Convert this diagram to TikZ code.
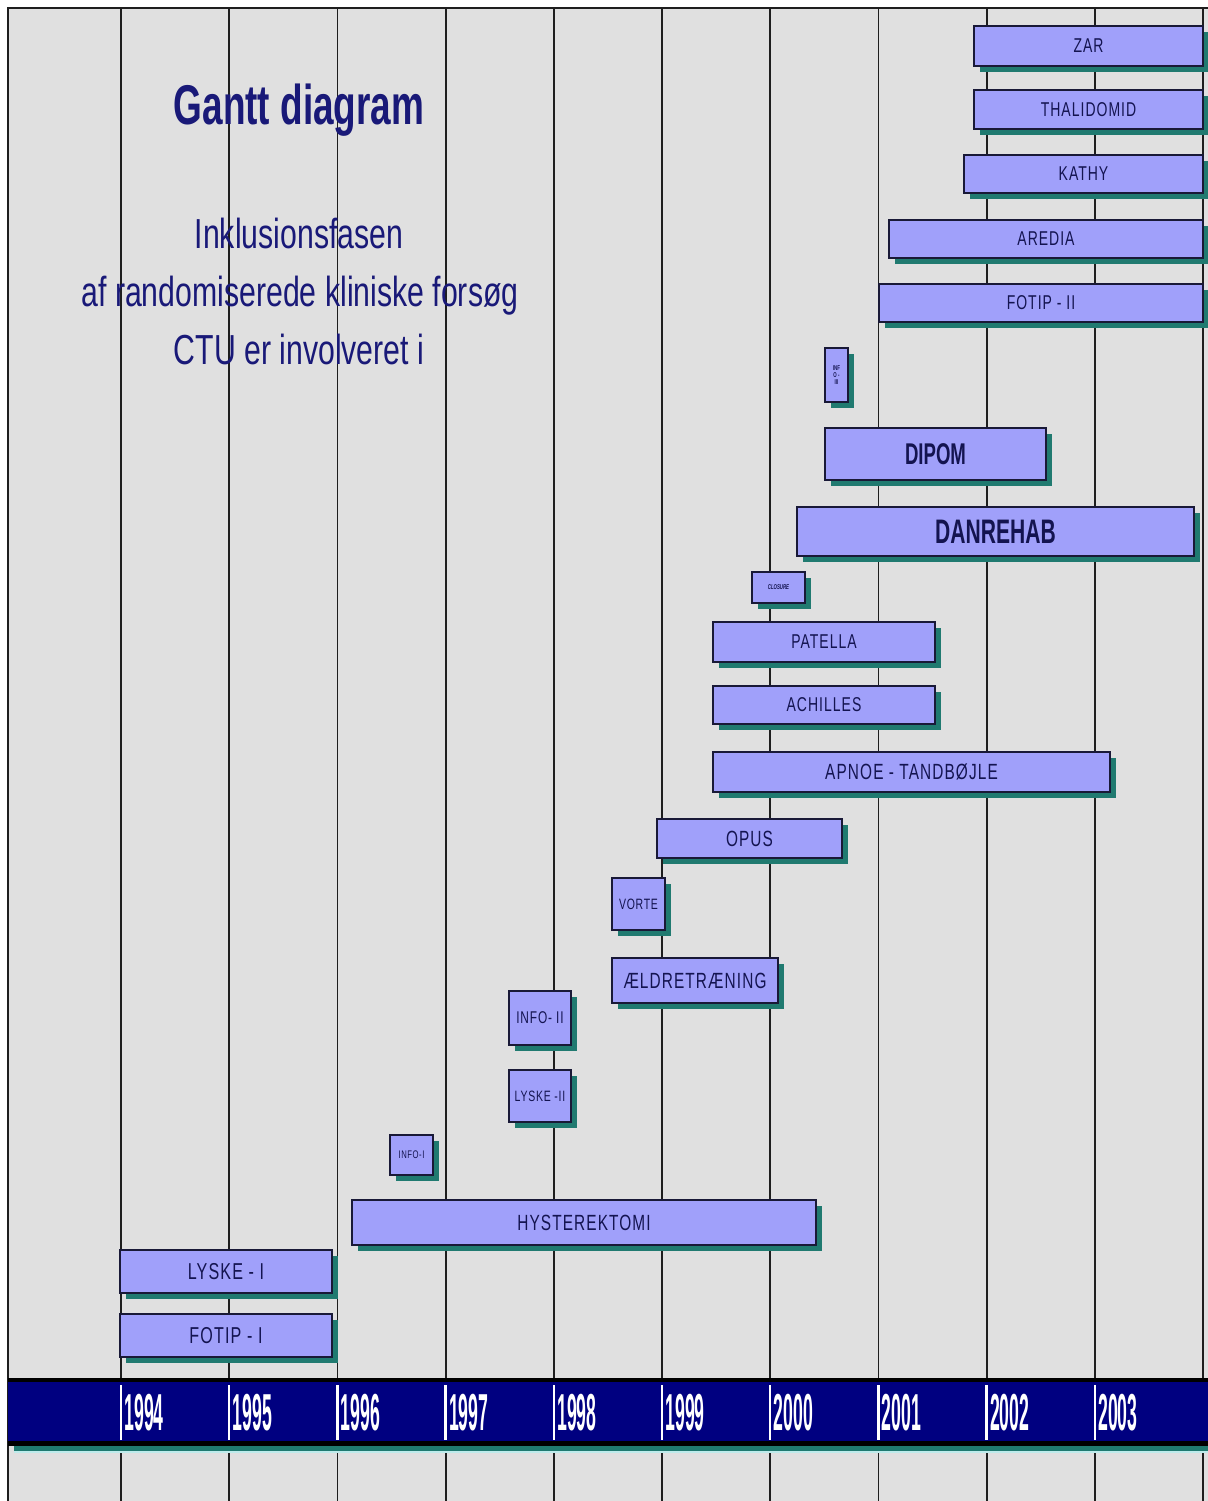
\documentclass[tikz,border=0pt]{standalone}
\usepackage{fontspec}
\setmainfont{Liberation Sans}
\newfontfamily\narrowfont[FakeStretch=0.72]{Liberation Sans}
\newfontfamily\titlefont[FakeStretch=0.66]{Liberation Sans}
\newfontfamily\yearfont[FakeStretch=0.34]{Liberation Sans}
\newfontfamily\barfont[FakeStretch=0.7,LetterSpace=5]{Liberation Sans}
\newfontfamily\boldbarfont[FakeStretch=0.62]{Liberation Sans}
\usetikzlibrary{shadows}
\definecolor{bggray}{RGB}{224,224,224}
\definecolor{gridcol}{RGB}{30,30,30}
\definecolor{navybar}{RGB}{0,0,128}
\definecolor{teals}{RGB}{32,122,112}
\definecolor{lightcyan}{RGB}{190,235,235}
\definecolor{barfill}{RGB}{160,160,250}
\definecolor{bardraw}{RGB}{25,25,55}
\definecolor{bartext}{RGB}{20,20,80}
\definecolor{titlecol}{RGB}{25,25,120}
\newcommand{\setfs}[1]{\fontsize{#1}{#1}\selectfont}
\tikzset{
  barbox/.style={draw=bardraw, line width=0.9pt, fill=barfill, inner sep=0pt,
    text=bartext, align=center,
    drop shadow={shadow xshift=3pt, shadow yshift=-3pt, fill=teals, opacity=1}},
  gridline/.style={draw=gridcol, line width=0.9pt},
  yearlabel/.style={text=white, anchor=west, inner sep=0pt, font=\yearfont\bfseries\setfs{26}},
  titletext/.style={text=titlecol, anchor=base, inner sep=0pt}
}
\newcommand{\ganttbar}[7]{%
  \pgfmathsetmacro\gw{(#4-#2)*0.5}%
  \pgfmathsetmacro\gh{(#5-#3)*0.5}%
  \node[barbox, font={#6}, minimum width=\gw pt, minimum height=\gh pt] (#1)
    at ({(#2+#4)/2},{(#3+#5)/2}) {#7};}
\begin{document}
\begin{tikzpicture}[x=0.5pt,y=-0.5pt]
\useasboundingbox (0,0) rectangle (1208,1501);
\fill[white] (0,0) rectangle (1208,1501);
\fill[bggray] (8,8) rectangle (1208,1501);
\draw[gridline] (8,1501) -- (8,8) -- (1208,8);
\foreach \i in {0,...,10} \draw[gridline] ({121+108.2*\i},8) -- ({121+108.2*\i},1501);
% year bar
\fill[black] (8,1378) rectangle (1208,1446);
\fill[navybar] (8,1382) rectangle (1208,1441);
\fill[teals] (14,1446) rectangle (1208,1451);
\fill[lightcyan] (14,1451) rectangle (1208,1453);
\foreach \i/\yr in {0/1994,1/1995,2/1996,3/1997,4/1998,5/1999,6/2000,7/2001,8/2002,9/2003} {
  \draw[white, line width=1.2pt] ({121+108.2*\i},1385) -- ({121+108.2*\i},1440);
  \node[yearlabel] (y\yr) at ({124+108.2*\i},1413) {\yr};
}
% titles
\node[titletext, font=\titlefont\bfseries\setfs{28}] (title) at (299,124) {Gantt diagram};
\node[titletext, font=\narrowfont\setfs{21}] (sub1) at (299,248) {Inklusionsfasen};
\node[titletext, font=\narrowfont\setfs{21}] (sub2) at (300,306) {af randomiserede kliniske forsøg};
\node[titletext, font=\narrowfont\setfs{21}] (sub3) at (299,364) {CTU er involveret i};
% bars
\ganttbar{zar}{974}{26}{1203}{66}{\barfont\setfs{10}}{ZAR}
\ganttbar{thalidomid}{974}{90}{1203}{129}{\barfont\setfs{10}}{THALIDOMID}
\ganttbar{kathy}{964}{155}{1203}{193}{\barfont\setfs{10}}{KATHY}
\ganttbar{aredia}{889}{220}{1203}{258}{\barfont\setfs{10}}{AREDIA}
\ganttbar{fotipii}{879}{284}{1203}{322}{\barfont\setfs{10}}{FOTIP - II}
\ganttbar{infoiii}{825}{348}{848}{402}{\boldbarfont\bfseries\setfs{3.5}}{INF\\O -\\III}
\ganttbar{dipom}{825}{428}{1046}{480}{\boldbarfont\bfseries\setfs{15}}{DIPOM}
\ganttbar{danrehab}{797}{507}{1194}{556}{\boldbarfont\bfseries\setfs{17}}{DANREHAB}
\ganttbar{closure}{752}{572}{805}{603}{\boldbarfont\bfseries\itshape\setfs{3.5}}{CLOSURE}
\ganttbar{patella}{713}{622}{935}{662}{\barfont\setfs{10}}{PATELLA}
\ganttbar{achilles}{713}{686}{935}{724}{\barfont\setfs{10}}{ACHILLES}
\ganttbar{apnoe}{713}{752}{1110}{792}{\barfont\setfs{11}}{APNOE - TANDBØJLE}
\ganttbar{opus}{657}{819}{842}{858}{\barfont\setfs{11}}{OPUS}
\ganttbar{vorte}{612}{878}{665}{930}{\barfont\setfs{7.5}}{VORTE}
\ganttbar{aeldre}{612}{958}{778}{1003}{\barfont\setfs{11}}{ÆLDRETRÆNING}
\ganttbar{infoii}{509}{991}{571}{1045}{\barfont\setfs{8.5}}{INFO- II}
\ganttbar{lyskeii}{509}{1070}{571}{1122}{\barfont\setfs{7.5}}{LYSKE -II}
\ganttbar{infoi}{390}{1135}{433}{1175}{\barfont\setfs{5.5}}{INFO-I}
\ganttbar{hyst}{352}{1200}{816}{1245}{\barfont\setfs{11}}{HYSTEREKTOMI}
\ganttbar{lyskei}{120}{1250}{332}{1293}{\barfont\setfs{11.5}}{LYSKE - I}
\ganttbar{fotipi}{120}{1314}{332}{1357}{\barfont\setfs{11.5}}{FOTIP - I}
\end{tikzpicture}
\end{document}
